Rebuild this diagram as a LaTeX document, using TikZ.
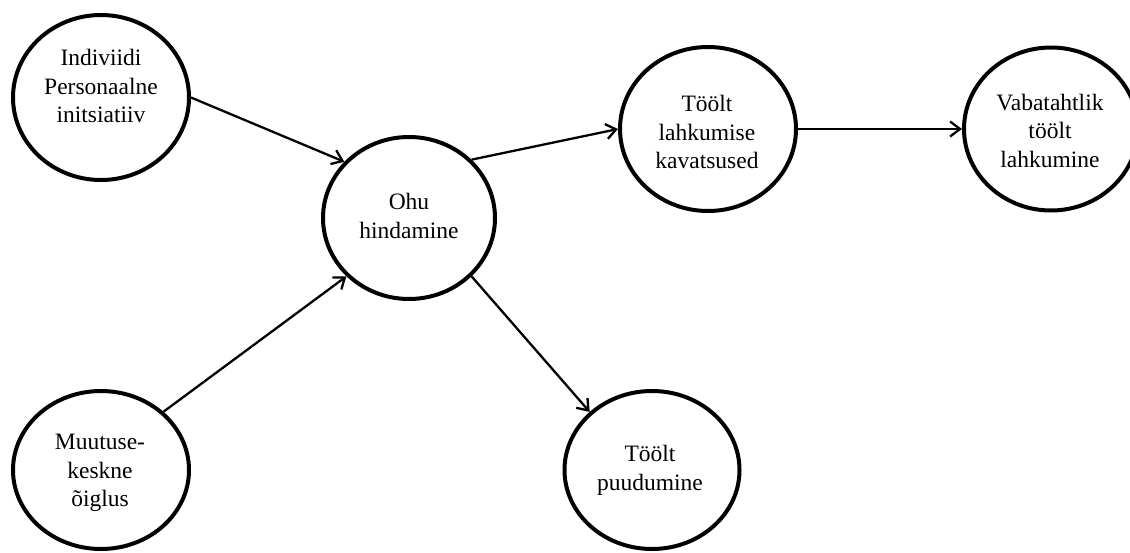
\documentclass[tikz,border=0pt]{standalone}
\usepackage{fontspec}
\setmainfont{Liberation Serif}
\usetikzlibrary{shapes.geometric,arrows.meta}
\begin{document}
\begin{tikzpicture}[x=1pt,y=-1pt,
  bubble/.style={draw=black,line width=4pt,ellipse,inner sep=0pt},
  txt/.style={align=center,font=\fontsize{23.5}{28.5}\selectfont,inner sep=0pt},
  link/.style={line width=2.3pt,-{Straight Barb[length=10pt,width=15pt,line width=2.3pt]}}]
\useasboundingbox (0,0) rectangle (1130,552);
\fill[white] (0,0) rectangle (1130,552);
\node[bubble,minimum width=176pt,minimum height=165pt] (n1) at (101,97.5) {};
\node[bubble,minimum width=172pt,minimum height=162pt] (n2) at (409,218) {};
\node[bubble,minimum width=176pt,minimum height=164pt] (n3) at (708,129) {};
\node[bubble,minimum width=174pt,minimum height=163pt] (n4) at (1051,129) {};
\node[bubble,minimum width=176pt,minimum height=158pt] (n5) at (101,470) {};
\node[bubble,minimum width=175pt,minimum height=158pt] (n6) at (652,470) {};
\node[txt] (t1) at (101,86) {Indiviidi\\Personaalne\\initsiatiiv};
\node[txt] (t2) at (409,216) {Ohu\\hindamine};
\node[txt] (t3) at (707,132) {Töölt\\lahkumise\\kavatsused};
\node[txt] (t4) at (1050,130.5) {Vabatahtlik\\töölt\\lahkumine};
\node[txt] (t5) at (100,473) {Muutuse-\\keskne\\õiglus};
\node[txt] (t6) at (650,470.5) {Töölt\\puudumine};
\draw[link] (n1.east) -- (n2.139);
\draw[link] (n5.43) -- (n2.223);
\draw[link] (n2.43) -- (n3.west);
\draw[link] (n3.east) -- (n4.west);
\draw[link] (n2.317) -- (n6.137);
\end{tikzpicture}
\end{document}
